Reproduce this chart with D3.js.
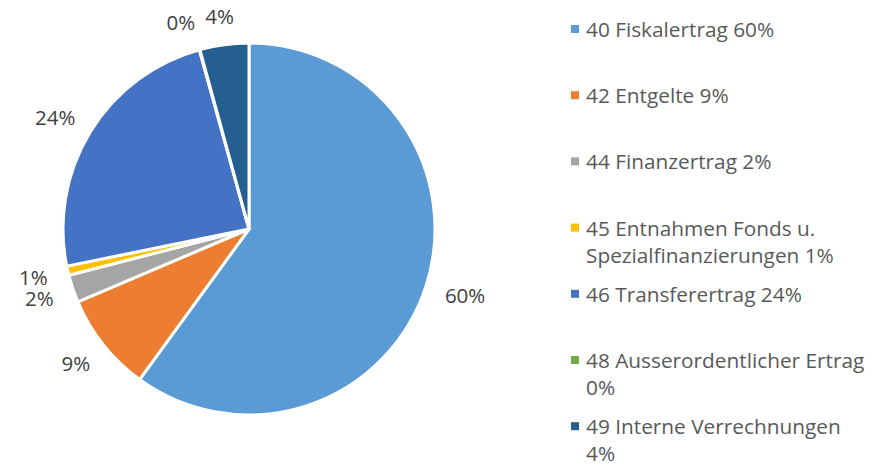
<!DOCTYPE html>
<html>
<head>
<meta charset="utf-8">
<script src="https://cdn.jsdelivr.net/npm/d3@7"></script>
<style>
  body { margin: 0; background: #fff; }
  svg { font-family: "Open Sans", Lato, sans-serif; }
</style>
</head>
<body>
<svg id="chart" width="888" height="466"></svg>
<script>
// data
let categories = ["40 Fiskalertrag", "42 Entgelte", "44 Finanzertrag",
    "45 Entnahmen Fonds u. Spezialfinanzierungen", "46 Transferertrag",
    "48 Ausserordentlicher Ertrag", "49 Interne Verrechnungen"];
let shares = [60.0, 8.6, 2.4, 0.8, 23.9, 0.05, 4.25];
let colors = ["#5b9bd5", "#ed7d31", "#a5a5a5", "#ffc000", "#4472c4", "#70ad47", "#255e91"];

let chart = d3.select("#chart");
let cx = 249, cy = 229, radius = 186;

let data = categories.map(function(c, i) {
    return { name: c, value: shares[i], color: colors[i], pct: Math.round(shares[i]) + "%" };
});

let pie = d3.pie()
    .sort(null)
    .value(function(d) { return d.value; });
let arcs = pie(data);

let arc = d3.arc().innerRadius(0).outerRadius(radius);

let g = chart.append("g")
    .attr("transform", "translate(" + cx + "," + cy + ")");

g.selectAll("path.slice")
    .data(arcs)
    .enter()
    .append("path")
    .attr("class", "slice")
    .attr("d", arc)
    .attr("fill", function(d) { return d.data.color; })
    .attr("stroke", "#fff")
    .attr("stroke-width", 3)
    .attr("stroke-linejoin", "round");

// outside-end labels
let labels = g.selectAll("text.lbl")
    .data(arcs)
    .enter()
    .append("text")
    .attr("class", "lbl")
    .text(function(d) { return d.data.pct; })
    .style("font-size", "20.5px")
    .style("fill", "#404040")
    .attr("text-anchor", "middle")
    .attr("dominant-baseline", "central");

let pos = [];
labels.each(function(d) {
    let a = (d.startAngle + d.endAngle) / 2;
    let w = this.getComputedTextLength(), h = 16;
    let R = radius + 21;
    let x = Math.sin(a) * R + Math.sin(a) * w / 2;
    let y = -Math.cos(a) * R - Math.cos(a) * h / 2;
    pos.push({ x: x, y: y, w: w, h: h });
});
// push overlapping labels apart (walk backwards, left side)
for (let i = pos.length - 2; i >= 0; i--) {
    let p = pos[i], q = pos[i + 1];
    if (Math.abs(p.y - q.y) < p.h && p.x + p.w / 2 + 10 > q.x - q.w / 2) {
        p.x = q.x - q.w / 2 - 10 - p.w / 2;
    }
}
labels
    .attr("x", function(d, i) { return pos[i].x; })
    .attr("y", function(d, i) { return pos[i].y; });

// legend
let legendX = 586, legendTop = 29, legendStep = 66.2, lineH = 27, maxW = 283;
let legend = chart.append("g");
categories.forEach(function(c, i) {
    let y = legendTop + i * legendStep;
    legend.append("rect")
        .attr("x", legendX - 15)
        .attr("y", y - 4)
        .attr("width", 8)
        .attr("height", 8)
        .attr("fill", colors[i]);
    let t = legend.append("text")
        .attr("x", legendX)
        .attr("y", y)
        .attr("dominant-baseline", "central")
        .style("font-size", "20.8px")
        .style("fill", "#595959");
    let words = (c + " " + data[i].pct).split(" ");
    let line = [];
    let tspan = t.append("tspan").attr("x", legendX).attr("dy", 0);
    words.forEach(function(w) {
        line.push(w);
        tspan.text(line.join(" "));
        if (tspan.node().getComputedTextLength() > maxW && line.length > 1) {
            line.pop();
            tspan.text(line.join(" "));
            line = [w];
            tspan = t.append("tspan").attr("x", legendX).attr("dy", lineH).text(w);
        }
    });
});
</script>
</body>
</html>
